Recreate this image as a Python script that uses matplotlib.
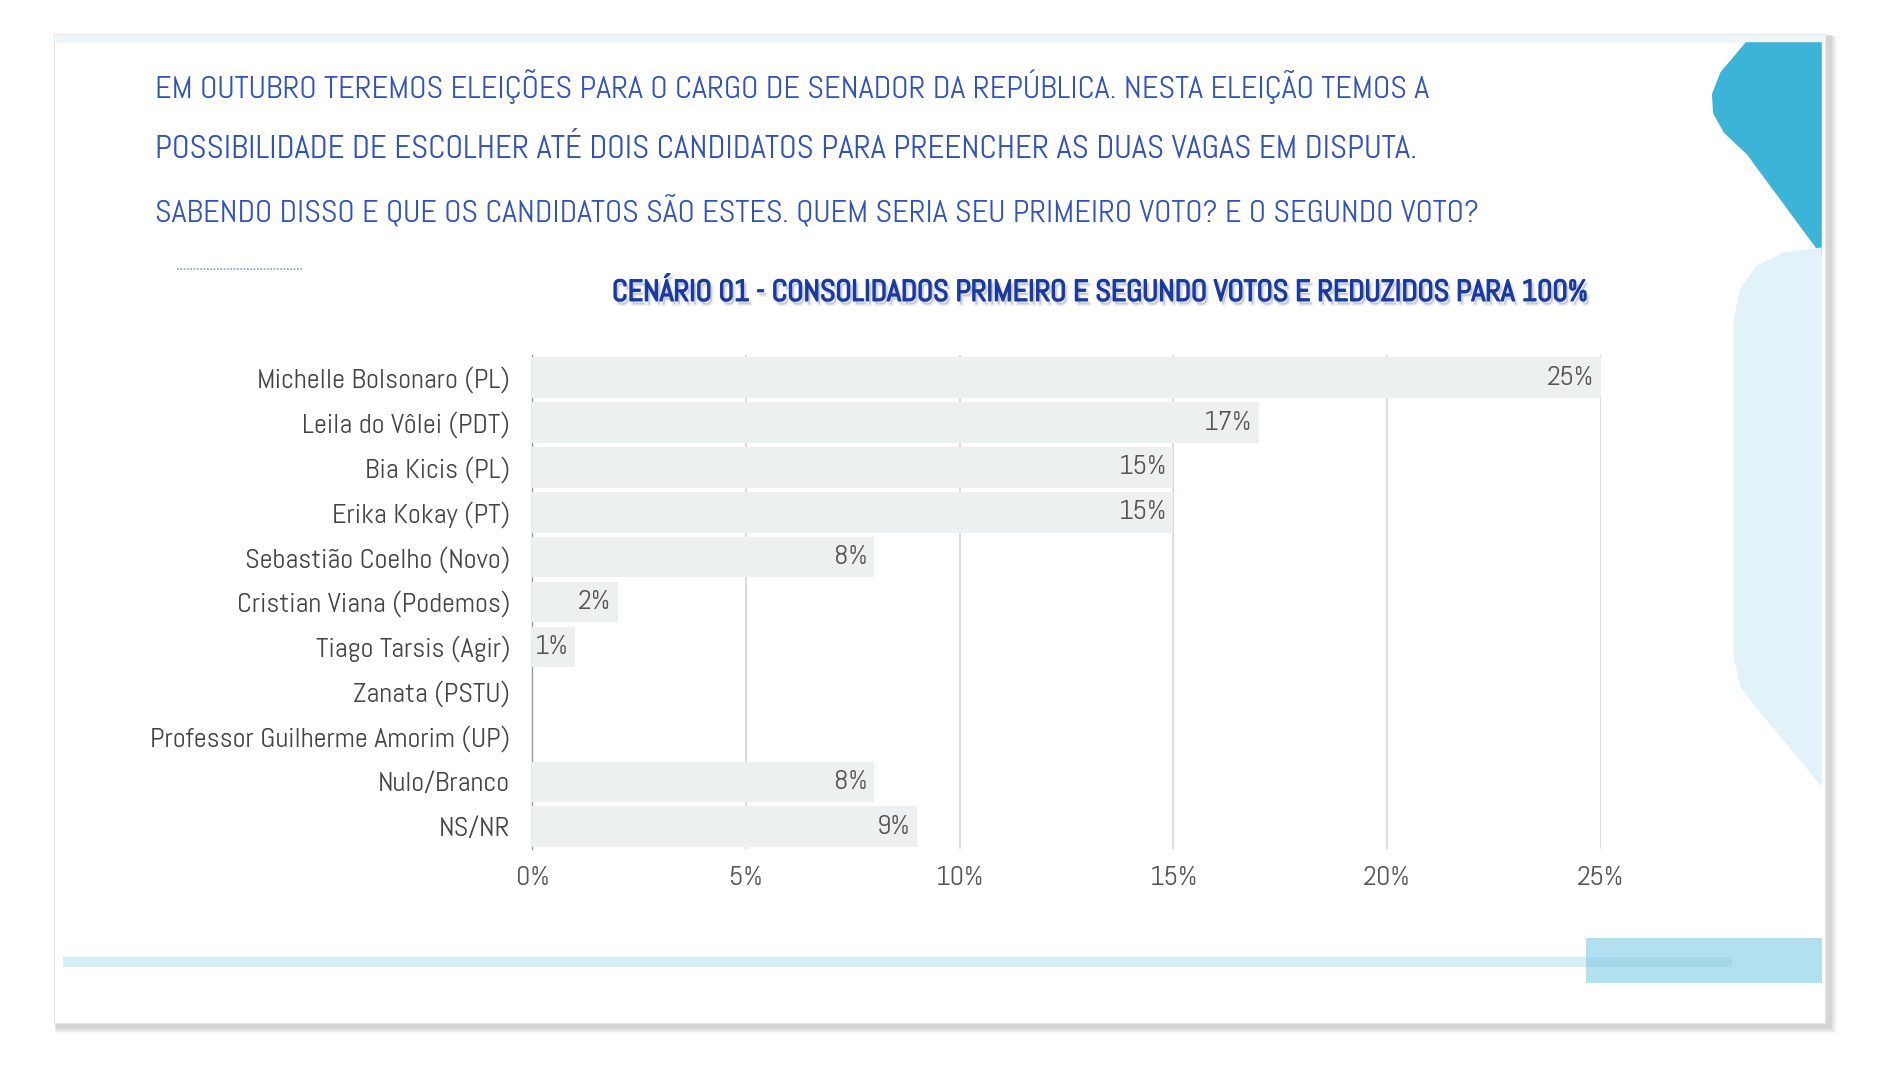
import matplotlib
matplotlib.use("Agg")
import matplotlib.pyplot as plt
from matplotlib.patches import Rectangle, Polygon
from matplotlib import font_manager
import matplotlib.patheffects as pe

# ---------------- data ----------------
categories = ["Michelle Bolsonaro (PL)", "Leila do Vôlei (PDT)", "Bia Kicis (PL)",
              "Erika Kokay (PT)", "Sebastião Coelho (Novo)", "Cristian Viana (Podemos)",
              "Tiago Tarsis (Agir)", "Zanata (PSTU)", "Professor Guilherme Amorim (UP)",
              "Nulo/Branco", "NS/NR"]
values = [25, 17, 15, 15, 8, 2, 1, 0, 0, 8, 9]
xticks = [0, 5, 10, 15, 20, 25]
xtick_labels = ["0%", "5%", "10%", "15%", "20%", "25%"]
title_lines = ["EM OUTUBRO TEREMOS ELEIÇÕES PARA O CARGO DE SENADOR DA REPÚBLICA. NESTA ELEIÇÃO TEMOS A",
               "POSSIBILIDADE DE ESCOLHER ATÉ DOIS CANDIDATOS PARA PREENCHER AS DUAS VAGAS EM DISPUTA.",
               "SABENDO DISSO E QUE OS CANDIDATOS SÃO ESTES. QUEM SERIA SEU PRIMEIRO VOTO? E O SEGUNDO VOTO?"]
subtitle = "CENÁRIO 01 - CONSOLIDADOS PRIMEIRO E SEGUNDO VOTOS E REDUZIDOS PARA 100%"

# ---------------- fonts ----------------
names = {f.name for f in font_manager.fontManager.ttflist}
FONT = [n for n in ["Abel", "DejaVu Sans"] if n in names]
plt.rcParams["font.family"] = FONT

W, H = 1568.0, 895.0       # reference coordinate space
S = 1893.0 / W             # output px per reference px

fig = plt.figure(figsize=(18.93, 10.8), dpi=100)
fig.patch.set_facecolor("white")

bg = fig.add_axes([0, 0, 1, 1], zorder=0)
bg.set_xlim(0, W)
bg.set_ylim(H, 0)
bg.axis("off")

# card shadow
for i, a in enumerate([0.05, 0.07, 0.09, 0.12]):
    off = 5 - i
    bg.add_patch(Rectangle((45 + off * 0.3, 28 + off * 0.4), 1470 + off, 822 + off,
                           facecolor="#777777", alpha=a, edgecolor="none", zorder=1))
bg.add_patch(Rectangle((45, 28), 1467, 820, facecolor="white", edgecolor="#e6e6e6", lw=0.8, zorder=2))
bg.add_patch(Rectangle((46, 29), 1465, 7, facecolor="#f1f4f6", edgecolor="none", zorder=3))

# decorative shapes
dark = [(1446, 35), (1509, 35), (1509, 212), (1447, 128), (1428, 110), (1419, 94),
        (1418, 78), (1425, 60)]
bg.add_patch(Polygon(dark, closed=True, facecolor="#3cb4d8", edgecolor="none", zorder=3))
light = [(1509, 205), (1478, 209), (1455, 220), (1441, 240), (1436, 265), (1436, 545),
         (1442, 570), (1456, 588), (1509, 652)]
bg.add_patch(Polygon(light, closed=True, facecolor="#e1f3f8", edgecolor="none", zorder=3))
bg.add_patch(Rectangle((52, 793), 1383, 8, facecolor="#d5eef5", edgecolor="none", zorder=3))
bg.add_patch(Rectangle((1314, 777), 195, 38, facecolor="#b1e0ee", edgecolor="none", zorder=4))
bg.add_patch(Rectangle((1314, 793), 121, 8, facecolor="#a4d8e8", edgecolor="none", zorder=5))
bg.plot([147, 251], [223, 223], color="#8a9bd6", lw=1.2, ls=(0, (1, 1)), zorder=5)

fig.canvas.draw()
renderer = fig.canvas.get_renderer()


def fit(t, target_w):
    fs = t.get_fontsize()
    bb = t.get_window_extent(renderer)
    t.set_fontsize(fs * target_w * S / bb.width)
    return t.get_fontsize()


# title lines
title_specs = [(128, 72, 1049), (128, 124, 1044), (128, 175, 1092)]
for (x, y, w), s in zip(title_specs, title_lines):
    t = bg.text(x, y, s, fontsize=20, color="#3152b8", ha="left", va="center", zorder=6)
    fit(t, w)

# subtitle (bold look) with soft shadow
st = bg.text(507, 243, subtitle, fontsize=20, color="#1b3a9e", ha="left", va="center", zorder=7,
             path_effects=[pe.withStroke(linewidth=1.1, foreground="#1b3a9e")])
fs_sub = fit(st, 806)
bg.text(509, 246, subtitle, fontsize=fs_sub, color="#9aa3c0", alpha=0.3,
        ha="left", va="center", zorder=6,
        path_effects=[pe.withStroke(linewidth=2.5, foreground="#c5cbe0", alpha=0.3)])

# ---------------- chart ----------------
ax_left, ax_right = 441, 1326
row0, rowN = 313, 685
step = (rowN - row0) / (len(categories) - 1)
top = row0 - step / 2
bottom = rowN + step / 2
ax = fig.add_axes([ax_left / W, 1 - bottom / H, (ax_right - ax_left) / W, (bottom - top) / H], zorder=2)
ax.patch.set_alpha(0)

ypos = list(range(len(categories)))
ax.barh(ypos, values, height=0.9, color="#ecf0f0", zorder=2)
ax.set_xlim(0, 25)
ax.set_ylim(len(categories) - 0.5, -0.5)
ax.set_xticks(xticks)
ax.set_xticklabels(xtick_labels)
ax.set_yticks(ypos)
ax.set_yticklabels(categories)
ax.grid(axis="x", color="#dcdcdc", lw=1.4, zorder=0)
ax.set_axisbelow(True)
for sp in ["top", "right", "bottom"]:
    ax.spines[sp].set_visible(False)
ax.spines["left"].set_color("#999999")
ax.spines["left"].set_linewidth(1.0)
ax.spines["left"].set_zorder(1)
ax.tick_params(axis="both", length=0)
ax.tick_params(axis="y", pad=16, colors="#444444")
ax.tick_params(axis="x", pad=12, colors="#555555")

fig.canvas.draw()
lbls = ax.get_yticklabels()
longest = lbls[8]
scale = 298 * S / longest.get_window_extent(renderer).width
fs_lab = longest.get_fontsize() * scale
for l in lbls:
    l.set_fontsize(fs_lab)
    l.set_color("#444444")
for l in ax.get_xticklabels():
    l.set_fontsize(fs_lab)
    l.set_color("#555555")

for yv, v in zip(ypos, values):
    if v > 0:
        ax.annotate(f"{v}%", (v, yv), xytext=(-5, 0), textcoords="offset points",
                    ha="right", va="center", fontsize=fs_lab, color="#555555", zorder=3)

fig.savefig("out.png", dpi=100, facecolor="white")
